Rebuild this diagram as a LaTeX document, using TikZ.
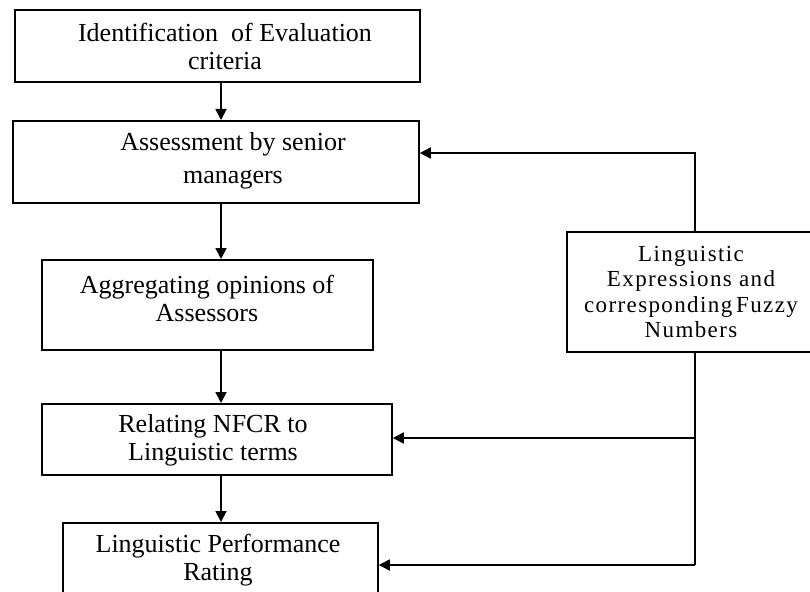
\documentclass[tikz,border=0pt]{standalone}
\usepackage{fontspec}
\setmainfont{Liberation Serif}
\newfontfamily\spacedfont[LetterSpace=6]{Liberation Serif}
\usetikzlibrary{arrows.meta}
\begin{document}
\begin{tikzpicture}[x=1pt,y=-1pt,
  boxstyle/.style={draw=black,line width=1.8pt,rectangle,inner sep=0pt,anchor=north west},
  txt/.style={align=center,inner sep=0pt,font=\fontsize{26}{28}\selectfont},
  rtxt/.style={align=center,inner sep=0pt,font=\spacedfont\fontsize{23}{25.3}\selectfont},
  conn/.style={line width=1.8pt},
  arr/.style={line width=1.8pt,-{Triangle[length=11pt,width=11pt]}}]
\path[use as bounding box,clip] (0,0) rectangle (810,591);
\fill[white] (0,0) rectangle (810,591);
% boxes
\node[boxstyle,minimum width=405pt,minimum height=72pt] (b1) at (14,9) {};
\node[boxstyle,minimum width=406pt,minimum height=82pt] (b2) at (12,120) {};
\node[boxstyle,minimum width=331pt,minimum height=90pt] (b3) at (41,259) {};
\node[boxstyle,minimum width=350pt,minimum height=71pt] (b4) at (41,403) {};
\node[boxstyle,minimum width=315pt,minimum height=80pt] (b5) at (62,522) {};
\node[boxstyle,minimum width=246pt,minimum height=120pt] (ling) at (566,231) {};
% texts
\node[txt] (t1) at (225,46) {Identification\ \ of Evaluation\\criteria};
\node[txt] (t2) at (233,161) {Assessment by senior\\[5pt]managers};
\node[txt] (t3) at (207,298) {Aggregating opinions of\\Assessors};
\node[txt] (t4) at (213,440) {Relating NFCR to\\Linguistic terms};
\node[txt] (t5) at (218,560) {Linguistic Performance\\Rating};
\node[rtxt] (t6) at (691,292) {Linguistic\\Expressions and\\corresponding\,Fuzzy\\Numbers};
% helper coordinates
\coordinate (ax) at (221,0);
\coordinate (rx) at (695,0);
\coordinate (y1) at (0,153);
\coordinate (y2) at (0,438);
\coordinate (y3) at (0,565);
% vertical flow
\draw[arr] (b1.south -| ax) -- (b2.north -| ax);
\draw[arr] (b2.south -| ax) -- (b3.north -| ax);
\draw[arr] (b3.south -| ax) -- (b4.north -| ax);
\draw[arr] (b4.south -| ax) -- (b5.north -| ax);
% feedback from linguistic box
\draw[arr] (ling.north -| rx) |- (b2.east |- y1);
\draw[conn] (ling.south -| rx) -- (rx |- y3);
\draw[arr] (rx |- y2) -- (b4.east |- y2);
\draw[arr] (rx |- y3) -- (b5.east |- y3);
\end{tikzpicture}
\end{document}
